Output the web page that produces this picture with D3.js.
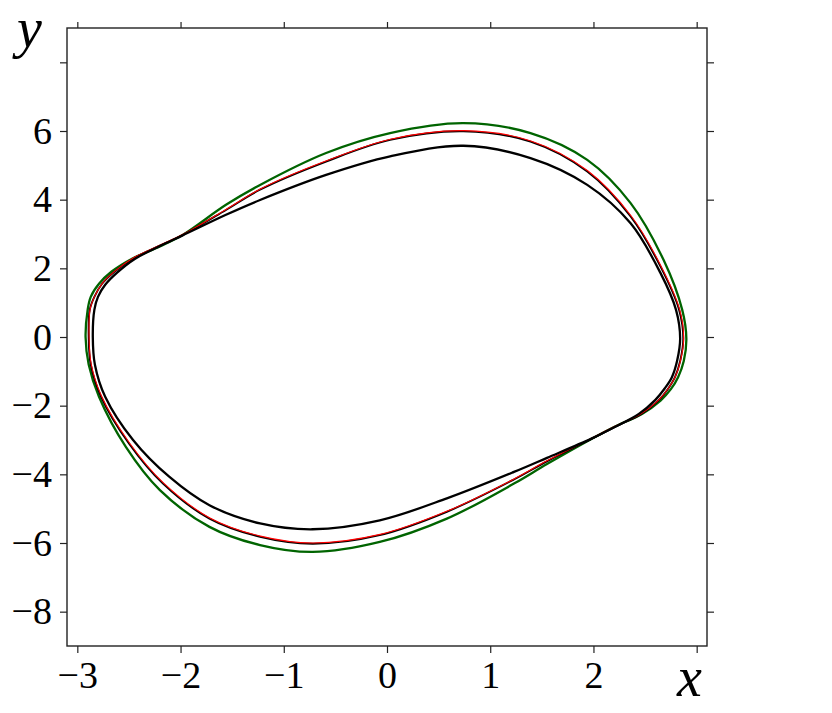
<!DOCTYPE html>
<html>
<head>
<meta charset="utf-8">
<script src="https://cdn.jsdelivr.net/npm/d3@7"></script>
<style>
  body { margin: 0; background: #fff; }
  .tick text { font-family: "Liberation Serif", "DejaVu Serif", serif; fill: #000; }
  .lbl { font-family: "Liberation Serif", "DejaVu Serif", serif; font-style: italic; }
</style>
</head>
<body>
<div class="chart"></div>
<script>
// data

var xTicks = [-3, -2, -1, 0, 1, 2, 3];
var xTickLabels = ["\u22123", "\u22122", "\u22121", "0", "1", "2", ""];
var yTicks = [-8, -6, -4, -2, 0, 2, 4, 6, 8];
var yTickLabels = ["\u22128", "\u22126", "\u22124", "\u22122", "0", "2", "4", "6", ""];

// outer (green) cycle
var greenX = [-2.92, -2.90, -2.87, -2.79, -2.67, -2.47, -2.20, -1.98, -1.56, -1.23, -0.59, 0.03, 0.74, 1.39, 1.94, 2.36, 2.68, 2.86, 2.90,
  2.875, 2.82, 2.75, 2.65, 2.47, 2.20, 1.98, 1.55, 1.23, 0.58, -0.07, -0.72, -1.23, -1.72, -2.20, -2.53, -2.79, -2.89];
var greenY = [0.00, 0.79, 1.17, 1.55, 1.90, 2.28, 2.64, 2.97, 3.85, 4.43, 5.36, 5.94, 6.23, 5.94, 5.16, 3.90, 2.24, 0.79, -0.05,
  -0.70, -1.17, -1.52, -1.85, -2.24, -2.62, -2.97, -3.70, -4.27, -5.29, -5.97, -6.26, -6.06, -5.53, -4.46, -3.20, -1.74, -0.80];

// middle cycle (black with red on top)
var midX = [-2.89, -2.88, -2.835, -2.76, -2.64, -2.45, -2.20, -1.98, -1.56, -1.23, -0.59, 0.03, 0.74, 1.39, 1.94, 2.36, 2.65, 2.83, 2.87,
  2.84, 2.79, 2.72, 2.63, 2.46, 2.20, 1.98, 1.55, 1.23, 0.58, -0.07, -0.72, -1.23, -1.72, -2.17, -2.50, -2.77, -2.87];
var midY = [0.00, 0.79, 1.17, 1.55, 1.90, 2.30, 2.66, 2.97, 3.70, 4.29, 5.11, 5.74, 5.99, 5.69, 4.82, 3.51, 2.05, 0.79, -0.05,
  -0.70, -1.17, -1.52, -1.85, -2.25, -2.63, -2.97, -3.62, -4.15, -5.09, -5.77, -6.02, -5.82, -5.29, -4.27, -3.10, -1.74, -0.80];

// inner (black) cycle
var innerX = [-2.85, -2.835, -2.80, -2.73, -2.62, -2.44, -2.20, -1.98, -1.56, -1.23, -0.59, 0.03, 0.74, 1.39, 1.94, 2.36, 2.65, 2.80, 2.84,
  2.81, 2.76, 2.69, 2.60, 2.44, 2.20, 1.98, 1.55, 1.23, 0.58, -0.07, -0.72, -1.23, -1.72, -2.11, -2.46, -2.73, -2.83];
var innerY = [0.00, 0.79, 1.17, 1.52, 1.86, 2.28, 2.65, 2.96, 3.56, 3.99, 4.72, 5.26, 5.57, 5.21, 4.43, 3.31, 1.86, 0.79, -0.05,
  -0.70, -1.17, -1.50, -1.83, -2.24, -2.63, -2.96, -3.52, -3.93, -4.70, -5.34, -5.60, -5.43, -4.90, -4.07, -3.00, -1.74, -0.80];

var w = 832;
var h = 713;
var pad = {left: 67, right: 707, top: 28, bottom: 646};

var svg = d3.select(".chart")
  .append("svg")
  .attr("width", w)
  .attr("height", h);

var xScale = d3.scaleLinear()
  .domain([-3.1, 3.1])
  .range([pad.left, pad.right]);

var yScale = d3.scaleLinear()
  .domain([-9, 9])
  .range([pad.bottom, pad.top]);

//Curves

var lineGen = d3.line()
  .curve(d3.curveCatmullRomClosed.alpha(0.5))
  .x(function(d) { return xScale(d[0]); })
  .y(function(d) { return yScale(d[1]); });

svg.append("path")
  .attr("d", lineGen(d3.zip(greenX, greenY)))
  .attr("stroke", "#006400")
  .attr("stroke-width", 2.3)
  .attr("fill", "none");

svg.append("path")
  .attr("d", lineGen(d3.zip(midX, midY)))
  .attr("stroke", "#000")
  .attr("stroke-width", 1.9)
  .attr("fill", "none");

svg.append("path")
  .attr("d", lineGen(d3.zip(midX, midY)))
  .attr("transform", "translate(0.4,-0.7)")
  .attr("stroke", "#ff0000")
  .attr("stroke-width", 1.1)
  .attr("fill", "none");

svg.append("path")
  .attr("d", lineGen(d3.zip(innerX, innerY)))
  .attr("stroke", "#000")
  .attr("stroke-width", 2.3)
  .attr("fill", "none");

//Axes

function styleAxis(g) {
  g.select(".domain").remove();
  g.selectAll(".tick line").attr("stroke", "#222").attr("stroke-width", 1.2);
  g.selectAll(".tick text").style("font-size", "38px");
}

svg.append("g")
  .attr("transform", "translate(0," + pad.bottom + ")")
  .call(d3.axisBottom(xScale).tickValues(xTicks).tickSize(7).tickPadding(8)
    .tickFormat(function(d, i) { return xTickLabels[i]; }))
  .call(styleAxis);

svg.append("g")
  .attr("transform", "translate(0," + pad.top + ")")
  .call(d3.axisTop(xScale).tickValues(xTicks).tickSize(6).tickFormat(""))
  .call(styleAxis);

svg.append("g")
  .attr("transform", "translate(" + pad.left + ",0)")
  .call(d3.axisLeft(yScale).tickValues(yTicks).tickSize(7).tickPadding(8)
    .tickFormat(function(d, i) { return yTickLabels[i]; }))
  .call(styleAxis);

svg.append("g")
  .attr("transform", "translate(" + pad.right + ",0)")
  .call(d3.axisRight(yScale).tickValues(yTicks).tickSize(7).tickFormat(""))
  .call(styleAxis);

svg.append("rect")
  .attr("x", pad.left)
  .attr("y", pad.top)
  .attr("width", pad.right - pad.left)
  .attr("height", pad.bottom - pad.top)
  .attr("fill", "none")
  .attr("stroke", "#222")
  .attr("stroke-width", 1.4);

//Axis labels

svg.append("text")
  .attr("class", "lbl")
  .attr("x", 17)
  .attr("y", 47)
  .style("font-size", "56px")
  .text("y");

svg.append("text")
  .attr("class", "lbl")
  .attr("x", 677)
  .attr("y", 696)
  .style("font-size", "56px")
  .text("x");
</script>
</body>
</html>
